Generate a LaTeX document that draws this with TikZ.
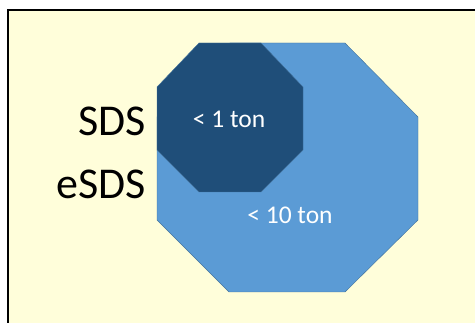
\documentclass[tikz,border=0pt]{standalone}
\usepackage{fontspec}
\setmainfont{Carlito}
\definecolor{paper}{RGB}{255,254,218}
\definecolor{lightoct}{RGB}{91,155,213}
\definecolor{darkoct}{RGB}{31,78,121}
\definecolor{octline}{RGB}{65,113,156}
\begin{document}
\begin{tikzpicture}[x=1pt,y=-1pt]
	    \tikzset{oct/.style={draw=octline,line width=0.4pt,line join=round},
	             side/.style={anchor=east,inner sep=0pt,font=\fontsize{44}{44}\selectfont},
	             inlabel/.style={text=white,inner sep=0pt,font=\fontsize{25.5}{25.5}\selectfont}}
	    \useasboundingbox (0,0) rectangle (475,323);
	    \clip (0,0) rectangle (475,323);
	    \fill [white] (0,0) rectangle (475,323);
	    \draw [line width=2pt,fill=paper] (8,10) rectangle (490,340);
	    % outer octagon, < 10 ton
	    \filldraw [oct,fill=lightoct] (230,43) -- (345,43) -- (418,117) -- (418,220)
	        -- (345,292) -- (229,292) -- (157,220) -- (157,117) -- cycle;
	    % inner octagon, < 1 ton
	    \filldraw [oct,fill=darkoct] (199,43) -- (261,43) -- (303,87) -- (303,150)
	        -- (261,192) -- (199,192) -- (157,150) -- (157,87) -- cycle;
	    \node [inlabel] (small) at (229,119) {< 1 ton};
	    \node [inlabel] (big) at (290,215) {< 10 ton};
	    \node [side] (sds) at (146,121) {SDS};
	    \node [side] (esds) at (146,184) {eSDS};
	\end{tikzpicture}
\end{document}
